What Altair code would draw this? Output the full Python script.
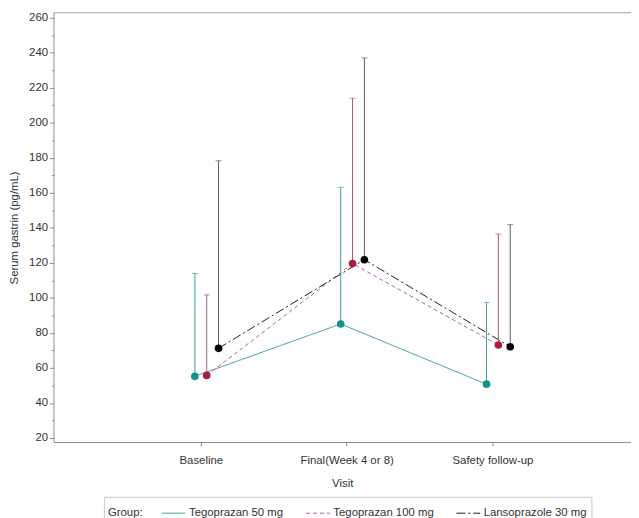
import altair as alt
import pandas as pd

visits = ["Baseline", "Final(Week 4 or 8)", "Safety follow-up"]
groups = ["Tegoprazan 50 mg", "Tegoprazan 100 mg", "Lansoprazole 30 mg"]

mean_50 = [55.2, 85.1, 50.7]
upper_50 = [113.9, 163.2, 97.4]
mean_100 = [55.7, 119.6, 73.1]
upper_100 = [101.7, 214.0, 136.5]
mean_30 = [71.2, 121.8, 72.1]
upper_30 = [178.3, 237.0, 141.8]

y_ticks = list(range(20, 261, 10))

line_colors = ["#2f9c97", "#b8627b", "#1e1e1e"]
marker_colors = ["#17908b", "#a3203f", "#000000"]
bar_colors = ["#3aa19c", "#a8566e", "#5a5a5a"]
dashes = [[1, 0], [4, 3], [9, 3, 2, 3]]

rows = []
for g, means, uppers in zip(groups, [mean_50, mean_100, mean_30], [upper_50, upper_100, upper_30]):
    for v, m, u in zip(visits, means, uppers):
        rows.append({"visit": v, "group": g, "mean": m, "upper": u})
df = pd.DataFrame(rows)

FONT = "Liberation Sans"
FS = 11.5
AX = "#8c8c8c"
TXT = "#333333"

visit_list = "[" + ",".join("'%s'" % v for v in visits) + "]"
group_list = "[" + ",".join("'%s'" % g for g in groups) + "]"
label_expr = visit_list + "[datum.value]"

x_axis = alt.Axis(title="Visit", values=[0, 1, 2], labelExpr=label_expr, labelAngle=0,
                  tickSize=4, labelPadding=9, titlePadding=12, orient="bottom",
                  labelFlush=False, labelOverlap=False)
x_scale = alt.Scale(domain=[-1.01, 2.95], nice=False, zero=False)
x_enc = alt.X("vx:Q", scale=x_scale, axis=x_axis)

y_scale = alt.Scale(domain=[17.7, 262.8], nice=False, zero=False)
y_axis = alt.Axis(values=y_ticks, title="Serum gastrin (pg/mL)",
                  tickSize=alt.ConditionalAxisNumber(
                      condition={"test": "datum.value % 20 === 0", "value": 4}, value=2),
                  labelExpr="datum.value % 20 === 0 ? datum.label : ''",
                  labelOverlap=False, labelPadding=2, titlePadding=9, orient="left")

legend = alt.Legend(
    title="Group:", orient="none", legendX=51, legendY=489.5, direction="horizontal", columns=3,
    titleOrient="left", titleAnchor="middle", titleBaseline="line-top", titleLineHeight=5.5,
    titlePadding=18, symbolType="stroke", symbolSize=576,
    symbolStrokeWidth=1, strokeColor="#c8c8c8", padding=4, columnPadding=20, labelOffset=3,
)

# cluster offset of each group around its visit (display spacing only)
base = alt.Chart(df).transform_calculate(
    vx="indexof(%s, datum.visit) + (indexof(%s, datum.group) - 0.5) * 0.0812" % (visit_list, group_list)
)

lines = base.mark_line(strokeWidth=1).encode(
    x=x_enc, y=alt.Y("mean:Q", scale=y_scale, axis=y_axis),
    stroke=alt.Stroke("group:N", sort=groups, legend=legend,
                      scale=alt.Scale(domain=groups, range=line_colors)),
    strokeDash=alt.StrokeDash("group:N", sort=groups, legend=legend,
                              scale=alt.Scale(domain=groups, range=dashes)),
    detail="group:N",
    order="vx:Q",
)

bars = base.mark_rule(strokeWidth=1).encode(
    x=x_enc, y=alt.Y("mean:Q", scale=y_scale, axis=y_axis), y2="upper:Q",
    color=alt.Color("group:N", sort=groups, legend=None,
                    scale=alt.Scale(domain=groups, range=bar_colors)),
)

caps = base.mark_tick(orient="horizontal", size=6, thickness=1).encode(
    x=x_enc, y=alt.Y("upper:Q", scale=y_scale, axis=y_axis),
    color=alt.Color("group:N", sort=groups, legend=None,
                    scale=alt.Scale(domain=groups, range=bar_colors)),
)

points = base.mark_point(filled=True, shape="circle", size=60, opacity=1).encode(
    x=x_enc, y=alt.Y("mean:Q", scale=y_scale, axis=y_axis),
    fill=alt.Fill("group:N", sort=groups, legend=None,
                  scale=alt.Scale(domain=groups, range=marker_colors)),
)

frame = alt.Chart(pd.DataFrame({"f": [0]})).mark_rule(color="#a6a6a6", strokeWidth=1).encode(
    x=alt.value(0), x2=alt.value(584), y=alt.value(0)
)

chart = alt.layer(lines, bars, caps, points, frame).properties(
    width=584, height=434,
    padding={"left": 46, "top": 2, "right": 0, "bottom": 74},
    autosize=alt.AutoSizeParams(type="none"),
).configure_view(stroke=None).configure_axis(
    domainColor=AX, tickColor=AX, labelColor=TXT, titleColor=TXT,
    labelFont=FONT, titleFont=FONT, labelFontSize=FS, titleFontSize=FS,
    titleFontWeight="normal", grid=False, labelOverlap=False,
).configure_legend(
    titleFont=FONT, titleFontSize=FS, titleFontWeight="normal",
    titleColor=TXT, labelFont=FONT, labelFontSize=FS, labelColor=TXT,
)

chart.save("out.html", embed_options={"renderer": "svg", "actions": False})
